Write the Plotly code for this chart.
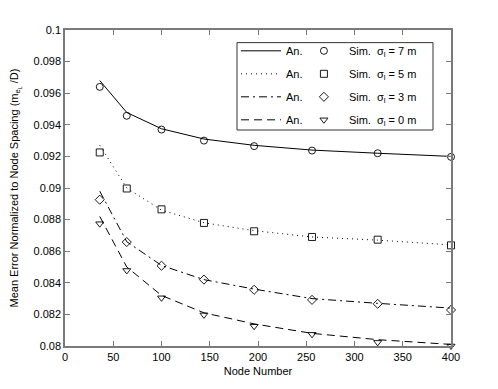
import plotly.graph_objects as go

# node counts on the x axis
nodes = [36, 64, 100, 144, 196, 256, 324, 400]

# analytical curves
an_s7 = [0.0968, 0.09478, 0.09375, 0.0931, 0.0927, 0.0924, 0.0922, 0.0920]
an_s5 = [0.0927, 0.0900, 0.0886, 0.0878, 0.0873, 0.0869, 0.0867, 0.0864]
an_s3 = [0.0898, 0.0866, 0.0851, 0.0842, 0.0836, 0.0830, 0.0827, 0.0824]
an_s0 = [0.0882, 0.0850, 0.0832, 0.0821, 0.0814, 0.0808, 0.0804, 0.0801]

# simulation points
sim_s7 = [0.0964, 0.09457, 0.0937, 0.0930, 0.09265, 0.09237, 0.0922, 0.09197]
sim_s5 = [0.09225, 0.08997, 0.08865, 0.08779, 0.08726, 0.0869, 0.08673, 0.08637]
sim_s3 = [0.08926, 0.08658, 0.08508, 0.0842, 0.08356, 0.08292, 0.08267, 0.08228]
sim_s0 = [0.08774, 0.08478, 0.08305, 0.08197, 0.08125, 0.08074, 0.08023, 0.0800]

sigmas = ["7", "5", "3", "0"]

y_ticks = [0.08, 0.082, 0.084, 0.086, 0.088, 0.09, 0.092, 0.094, 0.096, 0.098, 0.1]
y_ticktext = ["0.08", "0.082", "0.084", "0.086", "0.088", "0.09", "0.092",
              "0.094", "0.096", "0.098", "0.1"]

FONT = "Liberation Sans, Arial, sans-serif"
AXIS_GRAY = "#7a7a7a"

an_series = [an_s7, an_s5, an_s3, an_s0]
sim_series = [sim_s7, sim_s5, sim_s3, sim_s0]
dashes = ["solid", "1px,4px", "8px,4px,2px,4px", "8px,5px"]
symbols = ["circle-open", "square-open", "diamond-open", "triangle-down-open"]

fig = go.Figure()

for i, (an, sim) in enumerate(zip(an_series, sim_series)):
    fig.add_trace(go.Scatter(
        x=nodes, y=an, mode="lines",
        line=dict(color="black", width=1, dash=dashes[i]),
        name="An.", legend="legend", legendgroup=f"an{i}",
    ))
    fig.add_trace(go.Scatter(
        x=nodes, y=sim, mode="markers", cliponaxis=False,
        marker=dict(symbol=symbols[i], size=7, color="black", line=dict(width=0.9, color="black")),
        name=f"Sim.&nbsp;&nbsp;σ<sub>l</sub> = {sigmas[i]} m",
        legend="legend2", legendgroup=f"sim{i}",
    ))

axis_common = dict(
    showline=True, linecolor=AXIS_GRAY, linewidth=1.5, mirror="allticks",
    ticks="inside", ticklen=5, tickcolor=AXIS_GRAY, showgrid=False, zeroline=False,
    tickfont=dict(family=FONT, size=11, color="black"), automargin=False,
)

fig.update_xaxes(range=[0, 400], dtick=50, tick0=0,
                 title=dict(text="Node Number", font=dict(family=FONT, size=11, color="black"), standoff=5),
                 **axis_common)
fig.update_yaxes(range=[0.08, 0.1], tickvals=y_ticks, ticktext=y_ticktext,
                 title=dict(text="Mean Error Normalized to Node Spacing (m<sub>e<sub>L</sub></sub> /D)",
                            font=dict(family=FONT, size=11, color="black"), standoff=18),
                 **axis_common)

legend_common = dict(
    bgcolor="rgba(0,0,0,0)", borderwidth=0, tracegroupgap=4,
    font=dict(family=FONT, size=11, color="black"),
    yanchor="top", y=0.98, xanchor="left", itemwidth=40,
)

# the page body has an 8px margin, so the figure is 8px smaller and shifted
fig.update_layout(
    width=490, height=381,
    margin=dict(l=57, r=47, t=22, b=43),
    paper_bgcolor="white", plot_bgcolor="white",
    font=dict(family=FONT, size=11, color="black"),
    legend=dict(x=0.443, **legend_common),
    legend2=dict(x=0.606, **legend_common),
    shapes=[dict(type="rect", xref="paper", yref="paper",
                 x0=0.4456, x1=0.9534, y0=0.6835, y1=0.96,
                 line=dict(color="#333333", width=1), fillcolor="rgba(0,0,0,0)")],
)

fig.write_html("out.html")
